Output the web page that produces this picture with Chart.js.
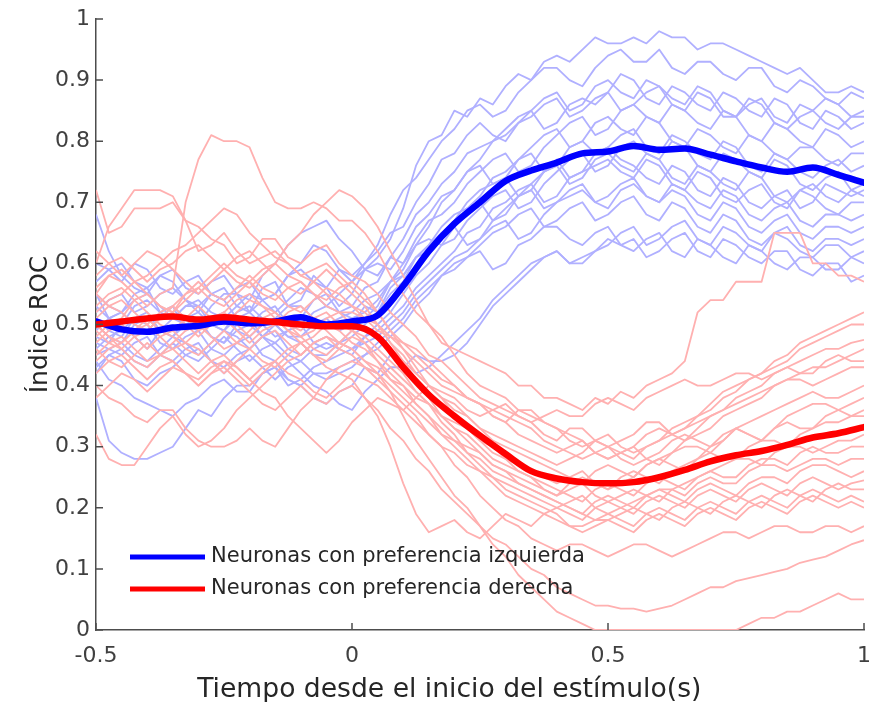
<!DOCTYPE html>
<html lang="es">
<head>
<meta charset="utf-8">
<title>Índice ROC</title>
<script src="https://cdn.jsdelivr.net/npm/chart.js@4.4.1/dist/chart.umd.min.js"></script>
<style>
  html, body { margin: 0; padding: 0; background: #ffffff; }
  canvas { display: block; }
</style>
</head>
<body>
<canvas id="roc" width="871" height="702"></canvas>
<script>
// Tiempo (s) relativo al inicio del estímulo: promedios (cada 50 ms) y neuronas (cada 25 ms)
const tiempoMedia = [-0.5,-0.45,-0.4,-0.35,-0.3,-0.25,-0.2,-0.15,-0.1,-0.05,0,
                     0.05,0.1,0.15,0.2,0.25,0.3,0.35,0.4,0.45,0.5,
                     0.55,0.6,0.65,0.7,0.75,0.8,0.85,0.9,0.95,1];
const tiempo = [-0.5,-0.475,-0.45,-0.425,-0.4,-0.375,-0.35,-0.325,-0.3,-0.275,-0.25,-0.225,-0.2,-0.175,-0.15,-0.125,-0.1,-0.075,-0.05,-0.025,0,
                0.025,0.05,0.075,0.1,0.125,0.15,0.175,0.2,0.225,0.25,0.275,0.3,0.325,0.35,0.375,0.4,0.425,0.45,0.475,0.5,
                0.525,0.55,0.575,0.6,0.625,0.65,0.675,0.7,0.725,0.75,0.775,0.8,0.825,0.85,0.875,0.9,0.925,0.95,0.975,1];

const xTicks = [-0.5, 0, 0.5, 1];
const xTickLabels = ['-0.5', '0', '0.5', '1'];
const yTicks = [0, 0.1, 0.2, 0.3, 0.4, 0.5, 0.6, 0.7, 0.8, 0.9, 1];
const yTickLabels = ['0', '0.1', '0.2', '0.3', '0.4', '0.5', '0.6', '0.7', '0.8', '0.9', '1'];

const etiquetas = ['Neuronas con preferencia izquierda', 'Neuronas con preferencia derecha'];
const tituloX = 'Tiempo desde el inicio del estímulo(s)';
const tituloY = 'Índice ROC';

// Promedio poblacional del índice ROC
const mediaIzquierda = [0.505,0.492,0.488,0.495,0.498,0.505,0.502,0.505,0.512,0.500,0.505,
                        0.515,0.563,0.620,0.665,0.700,0.735,0.752,0.765,0.780,0.783,
                        0.792,0.786,0.788,0.778,0.767,0.757,0.750,0.757,0.745,0.732];
const mediaDerecha   = [0.500,0.505,0.510,0.513,0.508,0.512,0.508,0.504,0.500,0.497,0.497,
                        0.480,0.430,0.385,0.350,0.318,0.288,0.260,0.248,0.242,0.240,
                        0.242,0.250,0.262,0.276,0.286,0.293,0.303,0.315,0.322,0.332];

// Índice ROC de cada neurona con preferencia izquierda
const neuronasIzquierda = [
  [0.55,0.51,0.52,0.55,0.56,0.52,0.53,0.49,0.50,0.53,0.55,0.55,0.52,0.56,0.57,0.53,0.54,0.58,0.56,0.53,0.55,
   0.59,0.61,0.64,0.69,0.76,0.80,0.81,0.85,0.84,0.87,0.86,0.89,0.91,0.90,0.93,0.94,0.93,0.95,0.97,0.96,
   0.96,0.97,0.96,0.98,0.97,0.97,0.95,0.96,0.96,0.95,0.94,0.93,0.92,0.91,0.92,0.90,0.88,0.88,0.89,0.88],
  [0.48,0.47,0.50,0.48,0.46,0.49,0.51,0.53,0.53,0.50,0.49,0.51,0.52,0.50,0.48,0.49,0.50,0.52,0.53,0.55,0.57,
   0.60,0.63,0.68,0.72,0.74,0.77,0.80,0.82,0.85,0.86,0.84,0.85,0.88,0.90,0.92,0.92,0.90,0.89,0.92,0.94,
   0.95,0.93,0.93,0.95,0.92,0.91,0.93,0.93,0.91,0.90,0.92,0.92,0.89,0.88,0.90,0.89,0.87,0.86,0.88,0.87],
  [0.60,0.59,0.57,0.60,0.59,0.56,0.55,0.57,0.58,0.55,0.54,0.56,0.57,0.54,0.55,0.58,0.59,0.57,0.56,0.59,0.58,
   0.60,0.62,0.65,0.66,0.70,0.73,0.77,0.78,0.81,0.83,0.81,0.80,0.83,0.85,0.87,0.88,0.85,0.86,0.89,0.90,
   0.88,0.87,0.90,0.89,0.87,0.86,0.89,0.88,0.85,0.84,0.86,0.87,0.84,0.83,0.86,0.85,0.87,0.86,0.84,0.85],
  [0.52,0.54,0.55,0.52,0.53,0.55,0.56,0.54,0.52,0.55,0.54,0.51,0.50,0.52,0.53,0.50,0.51,0.54,0.55,0.52,0.53,
   0.56,0.57,0.61,0.64,0.68,0.70,0.73,0.75,0.78,0.79,0.80,0.82,0.84,0.85,0.82,0.83,0.86,0.87,0.86,0.88,
   0.91,0.90,0.87,0.86,0.89,0.88,0.86,0.85,0.88,0.87,0.85,0.84,0.87,0.86,0.83,0.82,0.85,0.84,0.82,0.83],
  [0.45,0.46,0.47,0.45,0.44,0.46,0.48,0.47,0.45,0.47,0.49,0.48,0.46,0.48,0.50,0.48,0.47,0.45,0.45,0.47,0.49,
   0.51,0.53,0.57,0.60,0.64,0.67,0.68,0.70,0.73,0.75,0.77,0.78,0.75,0.76,0.79,0.81,0.83,0.84,0.81,0.82,
   0.85,0.86,0.84,0.83,0.86,0.85,0.83,0.82,0.85,0.84,0.81,0.80,0.83,0.82,0.80,0.79,0.82,0.81,0.79,0.80],
  [0.68,0.62,0.58,0.56,0.55,0.58,0.57,0.54,0.53,0.55,0.56,0.53,0.52,0.54,0.55,0.58,0.60,0.63,0.62,0.59,0.57,
   0.59,0.60,0.59,0.62,0.66,0.68,0.71,0.72,0.75,0.76,0.73,0.74,0.77,0.79,0.81,0.82,0.79,0.80,0.83,0.84,
   0.82,0.81,0.84,0.83,0.80,0.79,0.82,0.81,0.79,0.78,0.81,0.80,0.78,0.77,0.79,0.79,0.77,0.76,0.78,0.78],
  [0.50,0.48,0.47,0.50,0.51,0.49,0.48,0.51,0.52,0.50,0.49,0.52,0.53,0.51,0.50,0.48,0.48,0.50,0.51,0.49,0.50,
   0.53,0.52,0.55,0.57,0.61,0.63,0.66,0.68,0.69,0.71,0.74,0.75,0.77,0.78,0.75,0.76,0.79,0.80,0.78,0.79,
   0.81,0.82,0.79,0.78,0.81,0.80,0.78,0.77,0.80,0.79,0.76,0.75,0.78,0.77,0.75,0.74,0.76,0.77,0.75,0.76],
  [0.42,0.45,0.44,0.41,0.40,0.42,0.43,0.45,0.46,0.44,0.42,0.44,0.45,0.43,0.41,0.43,0.44,0.46,0.47,0.46,0.45,
   0.48,0.50,0.52,0.55,0.58,0.60,0.63,0.64,0.67,0.69,0.71,0.72,0.69,0.70,0.73,0.75,0.77,0.78,0.75,0.76,
   0.79,0.80,0.78,0.77,0.80,0.79,0.76,0.75,0.78,0.77,0.75,0.74,0.77,0.76,0.73,0.72,0.74,0.75,0.72,0.73],
  [0.57,0.59,0.60,0.57,0.56,0.58,0.59,0.56,0.55,0.57,0.58,0.55,0.54,0.58,0.60,0.63,0.65,0.66,0.67,0.64,0.62,
   0.59,0.58,0.61,0.60,0.63,0.64,0.63,0.66,0.69,0.70,0.67,0.68,0.71,0.73,0.75,0.76,0.73,0.74,0.77,0.78,
   0.76,0.75,0.78,0.77,0.74,0.73,0.76,0.75,0.73,0.72,0.75,0.74,0.71,0.70,0.72,0.73,0.71,0.70,0.72,0.71],
  [0.47,0.46,0.45,0.47,0.48,0.45,0.44,0.46,0.47,0.44,0.43,0.45,0.46,0.48,0.49,0.46,0.45,0.47,0.48,0.47,0.46,
   0.48,0.49,0.51,0.53,0.56,0.58,0.60,0.62,0.65,0.66,0.69,0.70,0.72,0.73,0.70,0.71,0.74,0.75,0.76,0.77,
   0.75,0.74,0.77,0.76,0.73,0.72,0.75,0.74,0.71,0.70,0.72,0.73,0.70,0.69,0.72,0.71,0.69,0.68,0.70,0.70],
  [0.53,0.51,0.50,0.53,0.54,0.52,0.51,0.50,0.49,0.51,0.52,0.49,0.48,0.50,0.51,0.53,0.53,0.51,0.50,0.51,0.52,
   0.54,0.55,0.57,0.58,0.61,0.62,0.65,0.66,0.63,0.64,0.67,0.69,0.71,0.72,0.69,0.70,0.72,0.73,0.70,0.71,
   0.73,0.74,0.71,0.70,0.73,0.72,0.70,0.69,0.72,0.71,0.68,0.67,0.69,0.70,0.67,0.66,0.68,0.68,0.67,0.68],
  [0.38,0.31,0.29,0.28,0.28,0.29,0.30,0.33,0.36,0.35,0.38,0.40,0.40,0.42,0.43,0.40,0.41,0.43,0.44,0.45,0.46,
   0.47,0.48,0.50,0.52,0.55,0.57,0.59,0.61,0.62,0.64,0.66,0.67,0.64,0.65,0.68,0.70,0.71,0.72,0.70,0.69,
   0.72,0.73,0.71,0.70,0.72,0.71,0.68,0.67,0.70,0.69,0.66,0.65,0.67,0.68,0.65,0.64,0.66,0.66,0.65,0.66],
  [0.44,0.41,0.40,0.38,0.37,0.36,0.35,0.37,0.38,0.40,0.41,0.39,0.39,0.42,0.43,0.41,0.40,0.42,0.42,0.43,0.44,
   0.45,0.46,0.48,0.50,0.53,0.55,0.58,0.60,0.61,0.63,0.65,0.66,0.68,0.69,0.66,0.67,0.69,0.70,0.67,0.68,
   0.70,0.71,0.68,0.67,0.70,0.69,0.66,0.65,0.68,0.67,0.64,0.63,0.65,0.66,0.63,0.62,0.64,0.64,0.63,0.64],
  [0.51,0.49,0.48,0.51,0.50,0.47,0.46,0.48,0.49,0.46,0.45,0.47,0.48,0.45,0.44,0.41,0.40,0.38,0.37,0.39,0.40,
   0.43,0.42,0.45,0.44,0.42,0.43,0.45,0.47,0.49,0.51,0.54,0.56,0.58,0.60,0.61,0.62,0.60,0.61,0.62,0.63,
   0.65,0.66,0.63,0.64,0.66,0.67,0.64,0.63,0.66,0.65,0.63,0.62,0.65,0.64,0.62,0.61,0.63,0.63,0.61,0.62],
  [0.55,0.53,0.52,0.50,0.49,0.51,0.53,0.51,0.50,0.48,0.47,0.49,0.50,0.48,0.46,0.44,0.42,0.40,0.39,0.37,0.36,
   0.39,0.41,0.43,0.43,0.45,0.44,0.44,0.45,0.47,0.50,0.53,0.55,0.57,0.59,0.61,0.62,0.60,0.60,0.62,0.64,
   0.63,0.62,0.64,0.65,0.62,0.61,0.64,0.63,0.61,0.60,0.63,0.62,0.60,0.59,0.61,0.61,0.59,0.59,0.61,0.60],
  [0.49,0.51,0.52,0.54,0.55,0.53,0.51,0.53,0.54,0.52,0.51,0.53,0.55,0.54,0.52,0.54,0.56,0.55,0.53,0.52,0.51,
   0.52,0.54,0.57,0.59,0.63,0.66,0.70,0.72,0.75,0.77,0.80,0.81,0.83,0.84,0.86,0.87,0.84,0.85,0.87,0.88,
   0.85,0.86,0.88,0.89,0.86,0.85,0.88,0.87,0.84,0.84,0.87,0.86,0.83,0.82,0.84,0.85,0.83,0.82,0.84,0.84],
  [0.46,0.48,0.49,0.51,0.52,0.49,0.48,0.50,0.51,0.48,0.47,0.50,0.51,0.48,0.47,0.49,0.50,0.47,0.46,0.47,0.48,
   0.50,0.52,0.56,0.58,0.61,0.63,0.65,0.67,0.70,0.72,0.73,0.74,0.71,0.72,0.75,0.77,0.74,0.75,0.78,0.79,
   0.77,0.76,0.74,0.73,0.76,0.75,0.72,0.71,0.74,0.73,0.70,0.69,0.71,0.72,0.69,0.70,0.73,0.72,0.71,0.72],
  [0.43,0.45,0.46,0.44,0.43,0.45,0.47,0.45,0.44,0.46,0.48,0.46,0.44,0.46,0.47,0.45,0.44,0.42,0.41,0.42,0.43,
   0.45,0.47,0.49,0.51,0.54,0.56,0.58,0.59,0.61,0.62,0.59,0.60,0.63,0.64,0.66,0.66,0.64,0.63,0.65,0.66,
   0.63,0.64,0.61,0.62,0.64,0.65,0.62,0.61,0.64,0.63,0.61,0.60,0.62,0.62,0.59,0.58,0.60,0.60,0.57,0.58]
];

// Índice ROC de cada neurona con preferencia derecha
const neuronasDerecha = [
  [0.55,0.58,0.57,0.55,0.53,0.55,0.56,0.70,0.77,0.81,0.80,0.80,0.79,0.74,0.70,0.69,0.69,0.70,0.69,0.67,0.67,
   0.65,0.62,0.58,0.55,0.52,0.50,0.47,0.46,0.45,0.44,0.43,0.42,0.40,0.40,0.38,0.38,0.37,0.36,0.38,0.37,
   0.39,0.38,0.40,0.41,0.42,0.44,0.52,0.54,0.54,0.57,0.57,0.57,0.65,0.65,0.65,0.60,0.60,0.58,0.58,0.57],
  [0.72,0.65,0.66,0.69,0.69,0.69,0.70,0.67,0.66,0.64,0.63,0.60,0.61,0.64,0.64,0.61,0.60,0.62,0.63,0.60,0.58,
   0.57,0.55,0.52,0.50,0.48,0.45,0.44,0.42,0.40,0.38,0.37,0.36,0.35,0.34,0.32,0.31,0.33,0.33,0.31,0.30,
   0.31,0.32,0.34,0.34,0.32,0.33,0.35,0.37,0.39,0.40,0.41,0.42,0.44,0.45,0.47,0.48,0.49,0.50,0.51,0.52],
  [0.60,0.66,0.69,0.72,0.72,0.72,0.71,0.67,0.62,0.63,0.65,0.62,0.60,0.61,0.62,0.60,0.58,0.59,0.60,0.58,0.56,
   0.54,0.52,0.49,0.47,0.46,0.44,0.42,0.40,0.38,0.37,0.35,0.34,0.36,0.36,0.34,0.33,0.31,0.30,0.31,0.32,
   0.30,0.29,0.30,0.31,0.33,0.34,0.35,0.36,0.38,0.39,0.41,0.42,0.43,0.44,0.46,0.47,0.48,0.49,0.50,0.50],
  [0.52,0.54,0.55,0.57,0.58,0.60,0.62,0.63,0.65,0.67,0.69,0.68,0.65,0.63,0.61,0.60,0.58,0.57,0.55,0.54,0.53,
   0.51,0.49,0.48,0.46,0.44,0.42,0.40,0.39,0.38,0.37,0.35,0.34,0.32,0.31,0.30,0.29,0.30,0.31,0.29,0.28,
   0.29,0.30,0.32,0.33,0.32,0.31,0.33,0.35,0.36,0.38,0.39,0.40,0.42,0.43,0.44,0.45,0.46,0.46,0.47,0.475],
  [0.48,0.50,0.51,0.54,0.55,0.53,0.52,0.55,0.56,0.54,0.53,0.55,0.57,0.59,0.60,0.63,0.65,0.68,0.70,0.72,0.71,
   0.69,0.66,0.62,0.58,0.54,0.50,0.48,0.45,0.42,0.40,0.39,0.38,0.36,0.35,0.34,0.33,0.32,0.31,0.29,0.28,
   0.29,0.30,0.28,0.27,0.29,0.31,0.32,0.33,0.35,0.36,0.37,0.38,0.40,0.41,0.42,0.43,0.43,0.44,0.45,0.46],
  [0.45,0.47,0.48,0.46,0.44,0.45,0.47,0.49,0.50,0.48,0.46,0.47,0.49,0.51,0.52,0.50,0.48,0.49,0.51,0.52,0.50,
   0.49,0.48,0.46,0.44,0.42,0.40,0.38,0.36,0.35,0.33,0.32,0.31,0.30,0.29,0.28,0.27,0.28,0.29,0.31,0.30,
   0.29,0.28,0.30,0.31,0.32,0.33,0.34,0.35,0.36,0.37,0.38,0.39,0.40,0.41,0.41,0.40,0.41,0.42,0.43,0.43],
  [0.32,0.28,0.27,0.27,0.30,0.33,0.35,0.32,0.30,0.31,0.33,0.36,0.38,0.40,0.42,0.44,0.45,0.47,0.48,0.47,0.46,
   0.44,0.43,0.41,0.40,0.38,0.37,0.35,0.34,0.33,0.31,0.29,0.28,0.27,0.26,0.25,0.24,0.25,0.26,0.24,0.23,
   0.24,0.25,0.27,0.28,0.27,0.26,0.28,0.30,0.31,0.33,0.34,0.35,0.36,0.37,0.38,0.39,0.38,0.38,0.39,0.40],
  [0.55,0.53,0.52,0.50,0.49,0.51,0.53,0.55,0.57,0.55,0.54,0.56,0.58,0.56,0.55,0.53,0.52,0.54,0.56,0.55,0.53,
   0.52,0.50,0.47,0.45,0.42,0.40,0.38,0.37,0.35,0.33,0.31,0.30,0.29,0.28,0.27,0.26,0.25,0.24,0.26,0.27,
   0.26,0.25,0.27,0.28,0.29,0.30,0.30,0.29,0.31,0.33,0.32,0.31,0.33,0.35,0.36,0.37,0.37,0.36,0.37,0.38],
  [0.40,0.38,0.37,0.35,0.34,0.36,0.36,0.33,0.31,0.30,0.30,0.31,0.33,0.31,0.30,0.33,0.36,0.38,0.41,0.43,0.44,
   0.43,0.42,0.40,0.38,0.36,0.34,0.32,0.31,0.30,0.29,0.27,0.26,0.25,0.24,0.23,0.22,0.24,0.25,0.24,0.23,
   0.25,0.26,0.25,0.24,0.26,0.27,0.28,0.29,0.28,0.28,0.30,0.31,0.31,0.30,0.32,0.33,0.34,0.34,0.35,0.35],
  [0.50,0.48,0.47,0.49,0.51,0.49,0.48,0.46,0.45,0.47,0.49,0.47,0.46,0.44,0.43,0.45,0.47,0.45,0.44,0.46,0.48,
   0.47,0.45,0.43,0.41,0.39,0.37,0.35,0.33,0.32,0.30,0.28,0.27,0.26,0.25,0.24,0.23,0.22,0.21,0.23,0.24,
   0.23,0.22,0.24,0.25,0.24,0.23,0.25,0.26,0.27,0.28,0.28,0.27,0.29,0.30,0.30,0.29,0.30,0.31,0.31,0.32],
  [0.58,0.60,0.61,0.59,0.57,0.59,0.60,0.62,0.63,0.61,0.59,0.57,0.56,0.58,0.60,0.58,0.57,0.55,0.54,0.56,0.57,
   0.55,0.52,0.49,0.46,0.43,0.40,0.38,0.35,0.33,0.31,0.30,0.28,0.26,0.25,0.23,0.22,0.23,0.24,0.22,0.21,
   0.22,0.23,0.22,0.21,0.23,0.24,0.25,0.26,0.25,0.25,0.27,0.28,0.28,0.27,0.29,0.30,0.29,0.29,0.30,0.30],
  [0.46,0.44,0.43,0.45,0.47,0.45,0.44,0.42,0.41,0.43,0.44,0.42,0.40,0.42,0.44,0.42,0.41,0.39,0.38,0.40,0.42,
   0.41,0.40,0.38,0.36,0.34,0.32,0.30,0.29,0.27,0.26,0.25,0.24,0.23,0.22,0.21,0.20,0.21,0.22,0.20,0.19,
   0.20,0.21,0.22,0.23,0.23,0.22,0.24,0.25,0.24,0.24,0.26,0.27,0.27,0.26,0.27,0.28,0.28,0.27,0.28,0.28],
  [0.53,0.55,0.56,0.54,0.52,0.50,0.49,0.51,0.53,0.51,0.50,0.52,0.54,0.53,0.51,0.49,0.48,0.46,0.45,0.47,0.49,
   0.47,0.44,0.41,0.39,0.37,0.35,0.33,0.31,0.29,0.28,0.26,0.25,0.24,0.23,0.22,0.21,0.20,0.19,0.21,0.22,
   0.21,0.20,0.22,0.23,0.22,0.21,0.23,0.24,0.23,0.22,0.24,0.25,0.25,0.24,0.26,0.27,0.27,0.26,0.25,0.26],
  [0.49,0.47,0.46,0.44,0.43,0.45,0.46,0.44,0.42,0.44,0.45,0.43,0.41,0.43,0.44,0.46,0.47,0.45,0.43,0.42,0.41,
   0.38,0.35,0.30,0.24,0.19,0.16,0.17,0.18,0.16,0.15,0.17,0.19,0.18,0.17,0.19,0.20,0.19,0.18,0.20,0.21,
   0.20,0.19,0.21,0.22,0.21,0.20,0.22,0.23,0.22,0.21,0.23,0.24,0.23,0.22,0.24,0.25,0.24,0.23,0.24,0.245],
  [0.62,0.60,0.58,0.60,0.62,0.61,0.59,0.57,0.55,0.57,0.59,0.61,0.62,0.60,0.58,0.56,0.55,0.57,0.59,0.57,0.55,
   0.53,0.50,0.47,0.44,0.41,0.38,0.35,0.33,0.31,0.29,0.27,0.26,0.24,0.23,0.22,0.21,0.20,0.19,0.18,0.18,
   0.19,0.20,0.19,0.18,0.20,0.21,0.20,0.19,0.21,0.22,0.21,0.20,0.22,0.23,0.22,0.21,0.23,0.24,0.23,0.23],
  [0.44,0.46,0.47,0.49,0.50,0.48,0.46,0.47,0.49,0.51,0.52,0.50,0.48,0.50,0.51,0.49,0.47,0.48,0.50,0.49,0.47,
   0.46,0.44,0.42,0.40,0.37,0.35,0.32,0.30,0.28,0.26,0.24,0.22,0.21,0.20,0.19,0.18,0.17,0.17,0.18,0.19,
   0.18,0.17,0.19,0.20,0.19,0.18,0.20,0.21,0.20,0.19,0.21,0.22,0.21,0.20,0.22,0.23,0.22,0.21,0.22,0.21],
  [0.51,0.53,0.54,0.52,0.50,0.52,0.53,0.51,0.49,0.50,0.52,0.54,0.55,0.53,0.52,0.50,0.49,0.51,0.52,0.50,0.49,
   0.48,0.46,0.44,0.42,0.39,0.37,0.34,0.32,0.29,0.27,0.25,0.23,0.22,0.21,0.20,0.19,0.17,0.16,0.17,0.18,
   0.17,0.16,0.18,0.19,0.18,0.17,0.19,0.20,0.19,0.18,0.20,0.21,0.20,0.19,0.21,0.22,0.21,0.20,0.21,0.20],
  [0.47,0.49,0.50,0.48,0.46,0.48,0.49,0.47,0.46,0.44,0.42,0.44,0.46,0.48,0.49,0.47,0.45,0.47,0.48,0.46,0.45,
   0.43,0.41,0.39,0.37,0.35,0.32,0.30,0.27,0.25,0.22,0.20,0.18,0.17,0.15,0.14,0.13,0.14,0.14,0.13,0.12,
   0.13,0.14,0.14,0.13,0.12,0.13,0.14,0.15,0.16,0.16,0.15,0.16,0.17,0.17,0.16,0.16,0.17,0.17,0.16,0.17],
  [0.42,0.44,0.45,0.43,0.41,0.43,0.44,0.42,0.40,0.42,0.43,0.41,0.39,0.37,0.36,0.38,0.40,0.38,0.37,0.39,0.40,
   0.38,0.36,0.33,0.31,0.28,0.26,0.23,0.21,0.19,0.17,0.15,0.14,0.12,0.10,0.09,0.07,0.06,0.05,0.04,0.04,
   0.035,0.035,0.03,0.035,0.04,0.05,0.06,0.07,0.07,0.08,0.085,0.09,0.095,0.10,0.11,0.115,0.12,0.13,0.14,0.147],
  [0.50,0.48,0.46,0.48,0.49,0.51,0.52,0.50,0.48,0.50,0.51,0.49,0.47,0.49,0.50,0.52,0.53,0.51,0.49,0.47,0.46,
   0.44,0.42,0.39,0.35,0.31,0.28,0.25,0.22,0.20,0.17,0.14,0.12,0.09,0.07,0.05,0.03,0.02,0.01,0.00,0.00,
   0.00,0.00,0.00,0.00,0.00,0.00,0.00,0.00,0.00,0.00,0.01,0.02,0.02,0.03,0.03,0.04,0.05,0.06,0.05,0.05],
  [0.56,0.58,0.59,0.57,0.55,0.53,0.52,0.54,0.56,0.58,0.60,0.58,0.57,0.55,0.54,0.56,0.57,0.55,0.53,0.52,0.52,
   0.51,0.50,0.48,0.47,0.45,0.43,0.41,0.40,0.38,0.37,0.36,0.35,0.34,0.33,0.31,0.30,0.29,0.28,0.29,0.30,
   0.28,0.27,0.28,0.29,0.31,0.32,0.31,0.30,0.32,0.33,0.32,0.31,0.33,0.34,0.33,0.33,0.35,0.36,0.35,0.36],
  [0.38,0.40,0.42,0.41,0.39,0.41,0.43,0.42,0.40,0.42,0.44,0.43,0.41,0.39,0.38,0.35,0.33,0.31,0.29,0.31,0.34,
   0.36,0.38,0.37,0.36,0.38,0.40,0.39,0.38,0.36,0.35,0.36,0.37,0.35,0.34,0.35,0.36,0.35,0.35,0.37,0.38,
   0.37,0.36,0.38,0.39,0.40,0.41,0.40,0.40,0.41,0.42,0.42,0.41,0.42,0.43,0.42,0.42,0.44,0.45,0.44,0.44]
];

const AZUL = '#0000ff', ROJO = '#ff0000';
const AZUL_CLARO = '#b0b0ff', ROJO_CLARO = '#ffb0b0';
const FUENTE = "'DejaVu Sans', Verdana, sans-serif";

const aPuntos = (ts, ys) => ys.map((y, i) => ({ x: ts[i], y }));

const lineaMedia = (label, serie, color) => ({
  label, data: aPuntos(tiempoMedia, serie), borderColor: color, borderWidth: 6.5,
  cubicInterpolationMode: 'monotone', pointRadius: 0, fill: false,
  borderCapStyle: 'round', borderJoinStyle: 'round'
});
const lineaNeurona = (serie, color) => ({
  data: aPuntos(tiempo, serie), borderColor: color, borderWidth: 1.8,
  tension: 0, pointRadius: 0, fill: false, borderJoinStyle: 'round'
});

// El primer conjunto se dibuja encima de los demás
const datasets = [
  lineaMedia(etiquetas[1], mediaDerecha, ROJO),
  lineaMedia(etiquetas[0], mediaIzquierda, AZUL),
  ...neuronasDerecha.map(s => lineaNeurona(s, ROJO_CLARO)),
  ...neuronasIzquierda.map(s => lineaNeurona(s, AZUL_CLARO))
];

// Marcas de graduación hacia el interior de los ejes
const marcas = {
  id: 'marcas',
  afterDatasetsDraw(chart) {
    const { ctx, chartArea: a, scales: { x, y } } = chart;
    ctx.save();
    ctx.strokeStyle = '#4d4d4d';
    ctx.lineWidth = 1.5;
    ctx.beginPath();
    yTicks.forEach(v => { const py = y.getPixelForValue(v); ctx.moveTo(a.left, py); ctx.lineTo(a.left + 7, py); });
    xTicks.forEach(v => { const px = x.getPixelForValue(v); ctx.moveTo(px, a.bottom); ctx.lineTo(px, a.bottom - 7); });
    ctx.stroke();
    ctx.restore();
  }
};

// Leyenda dentro del área de trazado, abajo a la izquierda
const leyenda = {
  id: 'leyenda',
  afterDraw(chart) {
    const { ctx, chartArea: a } = chart;
    const filas = etiquetas.map(lbl => chart.data.datasets.find(d => d.label === lbl));
    ctx.save();
    ctx.font = `21px ${FUENTE}`;
    ctx.textBaseline = 'middle';
    ctx.textAlign = 'left';
    filas.forEach((d, i) => {
      const py = a.bottom - 73 + i * 32;
      ctx.strokeStyle = d.borderColor;
      ctx.lineWidth = 5;
      ctx.beginPath();
      ctx.moveTo(a.left + 34, py);
      ctx.lineTo(a.left + 109, py);
      ctx.stroke();
      ctx.fillStyle = '#262626';
      ctx.fillText(d.label, a.left + 115, py);
    });
    ctx.restore();
  }
};

// Título del eje horizontal
const tituloHorizontal = {
  id: 'tituloHorizontal',
  afterDraw(chart) {
    const { ctx, scales: { x } } = chart;
    ctx.save();
    ctx.font = `26.6px ${FUENTE}`;
    ctx.fillStyle = '#262626';
    ctx.textAlign = 'center';
    ctx.textBaseline = 'middle';
    ctx.fillText(tituloX, x.getPixelForValue(0.19), chart.height - 12);
    ctx.restore();
  }
};

new Chart(document.getElementById('roc'), {
  type: 'line',
  data: { datasets },
  plugins: [marcas, leyenda, tituloHorizontal],
  options: {
    responsive: false,
    animation: false,
    devicePixelRatio: 1,
    events: [],
    layout: { padding: { left: 0, right: 7, top: 19, bottom: 0 } },
    plugins: { legend: { display: false }, tooltip: { enabled: false } },
    scales: {
      x: {
        type: 'linear', min: -0.5, max: 1,
        afterBuildTicks: s => { s.ticks = xTicks.map(v => ({ value: v })); },
        afterFit: s => { s.height = 72; s.paddingLeft = 0; s.paddingRight = 0; },
        grid: { display: false, drawTicks: false },
        border: { display: true, color: '#4d4d4d', width: 1.5 },
        ticks: {
          padding: 13, color: '#404040', maxRotation: 0, autoSkip: false,
          font: { family: FUENTE, size: 22 },
          callback: (v, i) => xTickLabels[i]
        }
      },
      y: {
        type: 'linear', min: 0, max: 1,
        afterBuildTicks: s => { s.ticks = yTicks.map(v => ({ value: v })); },
        afterFit: s => { s.width = 96; s.paddingTop = 0; s.paddingBottom = 0; },
        grid: { display: false, drawTicks: false },
        border: { display: true, color: '#4d4d4d', width: 1.5 },
        ticks: {
          padding: 6, color: '#404040', autoSkip: false,
          font: { family: FUENTE, size: 22 },
          callback: (v, i) => yTickLabels[i]
        },
        title: {
          display: true, text: tituloY, color: '#262626',
          font: { family: FUENTE, size: 25, lineHeight: 1 },
          padding: { top: 27.5, bottom: 0 }
        }
      }
    }
  }
});
</script>
</body>
</html>
